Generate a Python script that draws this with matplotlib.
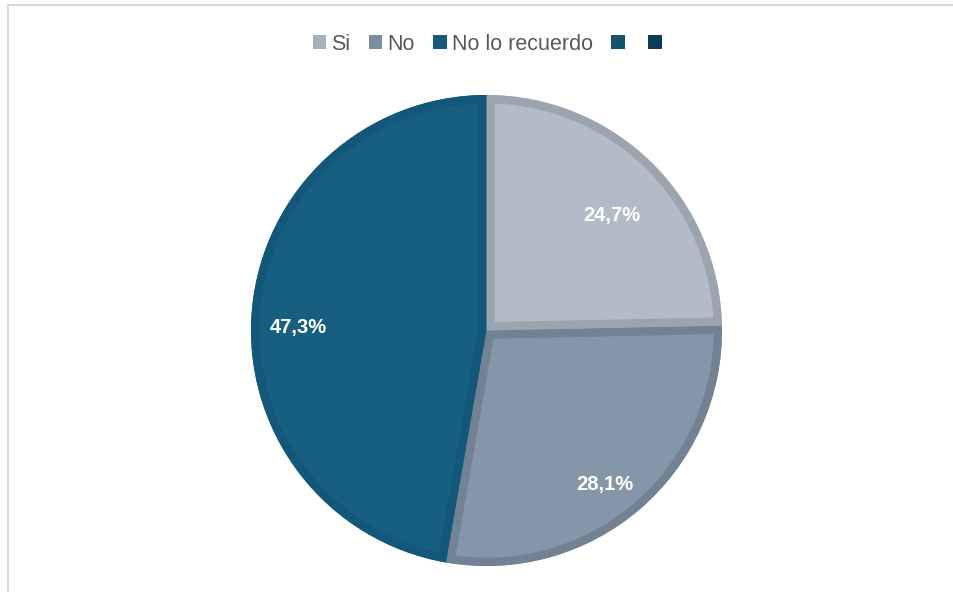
import numpy as np
import matplotlib.pyplot as plt
from matplotlib.patches import Patch, Wedge
from matplotlib.lines import Line2D

categories = ['Si', 'No', 'No lo recuerdo']
values = [24.7, 28.1, 47.3]
legend_labels = ['Si', 'No', 'No lo recuerdo', '', '']

fill_colors = ['#b2bcc6', '#8496a8', '#175f80']
edge_colors = ['#9ca5af', '#728292', '#13577a']
legend_colors = ['#a9b2bc', '#7c8d9f', '#16597a', '#14526e', '#0d3c57']

plt.rcParams['font.family'] = ['Liberation Sans', 'DejaVu Sans']

fig = plt.figure(figsize=(9.54, 5.92), dpi=100)
ax = fig.add_axes([251 / 954, 26 / 592, 471 / 954, 471 / 592])

wedges, _ = ax.pie(values, colors=fill_colors, startangle=90, counterclock=False,
                   radius=1.0, wedgeprops=dict(linewidth=0))
ax.set_xlim(-1, 1)
ax.set_ylim(-1, 1)
ax.set_aspect('equal')

# darker border drawn only on the inside of each slice
for w, ec in zip(wedges, edge_colors):
    border = Wedge(w.center, w.r, w.theta1, w.theta2, fill=False,
                   edgecolor=ec, linewidth=12, joinstyle='miter')
    ax.add_patch(border)
    border.set_clip_path(w)

# value labels
label_r = [0.72, 0.825, 0.80]
label_shift = [-3, -3, 4]
for w, v, r, s in zip(wedges, values, label_r, label_shift):
    mid = np.deg2rad((w.theta1 + w.theta2) / 2 + s)
    ax.text(r * np.cos(mid), r * np.sin(mid), f'{v:.1f}%'.replace('.', ','),
            ha='center', va='center', color='white', fontsize=14.5,
            fontweight='bold')

handles = [Patch(facecolor=c, edgecolor='none') for c in legend_colors]
fig.legend(handles, legend_labels, loc='center', bbox_to_anchor=(490 / 954, 1 - 44 / 592),
           ncol=5, frameon=False, fontsize=15.5, handlelength=0.62, handleheight=0.62,
           handletextpad=0.25, columnspacing=0.85, labelcolor='#595959')

# light outer frame
fig.add_artist(Line2D([8 / 954, 1], [1 - 5 / 592, 1 - 5 / 592], color='#d9d9d9', lw=1.5))
fig.add_artist(Line2D([8 / 954, 8 / 954], [0, 1 - 5 / 592], color='#d9d9d9', lw=1.5))

fig.savefig('out.png', dpi=100, facecolor='white')
